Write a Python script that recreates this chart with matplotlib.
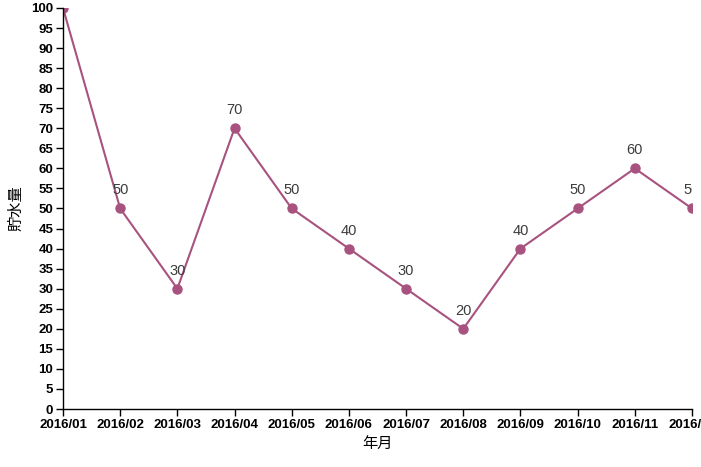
import matplotlib.pyplot as plt

months = ["2016/01", "2016/02", "2016/03", "2016/04", "2016/05", "2016/06",
          "2016/07", "2016/08", "2016/09", "2016/10", "2016/11", "2016/12"]
storage = [100, 50, 30, 70, 50, 40, 30, 20, 40, 50, 60, 50]

plt.rcParams['font.family'] = ['Liberation Sans', 'Noto Sans CJK JP', 'DejaVu Sans']

fig = plt.figure(figsize=(7.01, 4.67), dpi=100)
ax = fig.add_axes([63 / 701, 58 / 467, 629 / 701, 401 / 467])

color = "#a8527f"
x = list(range(len(months)))
ax.plot(x, storage, color=color, linewidth=1.5, marker="o", markersize=6.5, clip_on=True)

for xi, v in zip(x, storage):
    ax.annotate(str(v), (xi, v), xytext=(0, 13), textcoords="offset points",
                ha="center", va="center", fontsize=10.5, color="#3c3c3c",
                annotation_clip=False, clip_on=True)

ax.set_xlim(0, len(months) - 1)
ax.set_ylim(0, 100)
ax.set_xticks(x)
ax.set_xticklabels(months, fontweight="bold", fontsize=9.5)
ax.set_yticks(range(0, 101, 5))
ax.set_yticklabels([str(v) for v in range(0, 101, 5)], fontweight="bold", fontsize=9.5)
ax.tick_params(direction="out", length=5, width=1, pad=2)

for side in ("top", "right"):
    ax.spines[side].set_visible(False)
for side in ("left", "bottom"):
    ax.spines[side].set_linewidth(1)

ax.set_xlabel("年月", fontsize=11, family=["Noto Sans CJK JP"], labelpad=3)
ax.set_ylabel("貯水量", fontsize=11, family=["Noto Sans CJK JP"], labelpad=5)

fig.savefig("out.png", dpi=100)
